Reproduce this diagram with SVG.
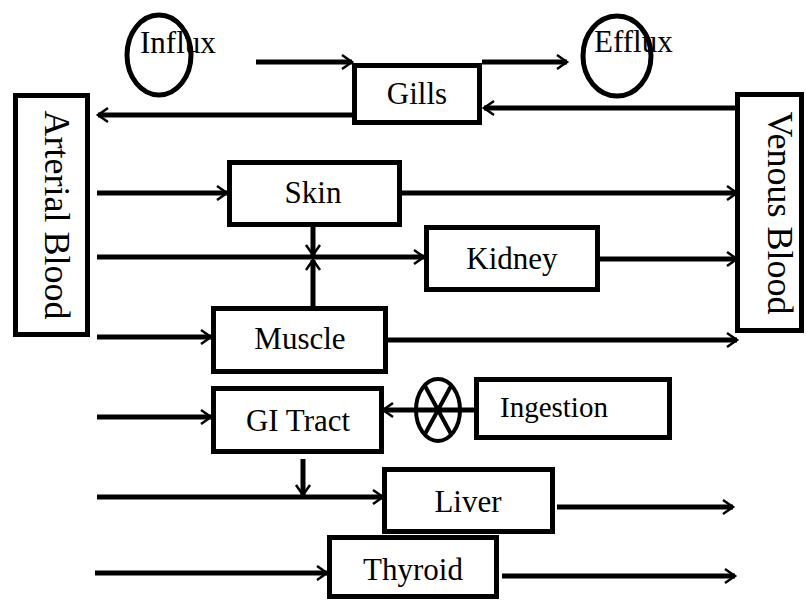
<svg xmlns="http://www.w3.org/2000/svg" width="806" height="600" viewBox="0 0 806 600">
<defs>
<marker id="ah" markerUnits="userSpaceOnUse" markerWidth="16" markerHeight="18" refX="12" refY="8" viewBox="0 0 16 16" orient="auto">
<path d="M2,1 L12,8 L2,15" fill="none" stroke="#000" stroke-width="2.5"/>
</marker>
<style>
.box{fill:#fff;stroke:#000;stroke-width:5}
.ell{fill:none;stroke:#000;stroke-width:5}
.lbl{font-family:"Liberation Serif","Times New Roman",serif;font-size:31px;fill:#000;text-anchor:middle}
.vlbl{font-family:"Liberation Serif","Times New Roman",serif;font-size:36px;fill:#000;text-anchor:middle}
.c{fill:none;stroke:#000;stroke-width:5;marker-end:url(#ah)}
</style>
</defs>
<rect width="806" height="600" fill="#fff"/>
<g id="connectors">
<path class="c" d="M256,62 H352"/>
<path class="c" d="M482,62 H567"/>
<path class="c" d="M352,115 H98"/>
<path class="c" d="M738,108 H484"/>
<path class="c" d="M97,193 H227"/>
<path class="c" d="M400,193 H737"/>
<path class="c" d="M97,257 H424"/>
<path class="c" d="M599,259 H737"/>
<path class="c" d="M313,225 V255"/>
<path class="c" d="M313,306 V260"/>
<path class="c" d="M97,337 H211"/>
<path class="c" d="M387,340 H737"/>
<path class="c" d="M97,417 H211"/>
<path class="c" d="M475,410 H383"/>
<path class="c" d="M303,459 V495"/>
<path class="c" d="M97,497 H383"/>
<path class="c" d="M557,507 H733"/>
<path class="c" d="M95,573 H327"/>
<path class="c" d="M502,576 H735"/>
</g>
<g id="influx">
<ellipse class="ell" cx="159" cy="55" rx="32" ry="40"/>
<text class="lbl" x="140" y="53" style="text-anchor:start">Influx</text>
</g>
<g id="efflux">
<ellipse class="ell" cx="617" cy="56" rx="34" ry="40"/>
<text class="lbl" x="594" y="52" style="text-anchor:start">Efflux</text>
</g>
<g id="arterial">
<rect class="box" x="15.5" y="95.5" width="72" height="239"/>
<text class="vlbl" transform="translate(45,215) rotate(90)" x="0" y="0">Arterial Blood</text>
</g>
<g id="venous">
<rect class="box" x="737.5" y="94.5" width="64" height="236"/>
<text class="vlbl" transform="translate(768,213) rotate(90)" x="0" y="0">Venous Blood</text>
</g>
<g id="gills">
<rect class="box" x="354.5" y="65.5" width="125" height="57"/>
<text class="lbl" x="417" y="104">Gills</text>
</g>
<g id="skin">
<rect class="box" x="229.5" y="162.5" width="170" height="62"/>
<text class="lbl" x="313" y="203">Skin</text>
</g>
<g id="kidney">
<rect class="box" x="426.5" y="227.5" width="171" height="62"/>
<text class="lbl" x="512" y="269">Kidney</text>
</g>
<g id="muscle">
<rect class="box" x="213.5" y="308.5" width="172" height="63"/>
<text class="lbl" x="300" y="349">Muscle</text>
</g>
<g id="gitract">
<rect class="box" x="213.5" y="388.5" width="168" height="63"/>
<text class="lbl" x="298" y="431">GI Tract</text>
</g>
<g id="ingestion-valve">
<ellipse cx="438" cy="410" rx="22" ry="31" fill="none" stroke="#000" stroke-width="4"/>
<path d="M425,386 L451,434 M451,386 L425,434" stroke="#000" stroke-width="4" fill="none"/>
</g>
<g id="ingestion">
<rect class="box" x="476.5" y="379.5" width="193" height="58"/>
<text class="lbl" x="500" y="417" style="text-anchor:start;font-size:29px">Ingestion</text>
</g>
<g id="liver">
<rect class="box" x="384.5" y="469.5" width="168" height="62"/>
<text class="lbl" x="468" y="512">Liver</text>
</g>
<g id="thyroid">
<rect class="box" x="329.5" y="537.5" width="167" height="59"/>
<text class="lbl" x="413" y="580">Thyroid</text>
</g>
</svg>
